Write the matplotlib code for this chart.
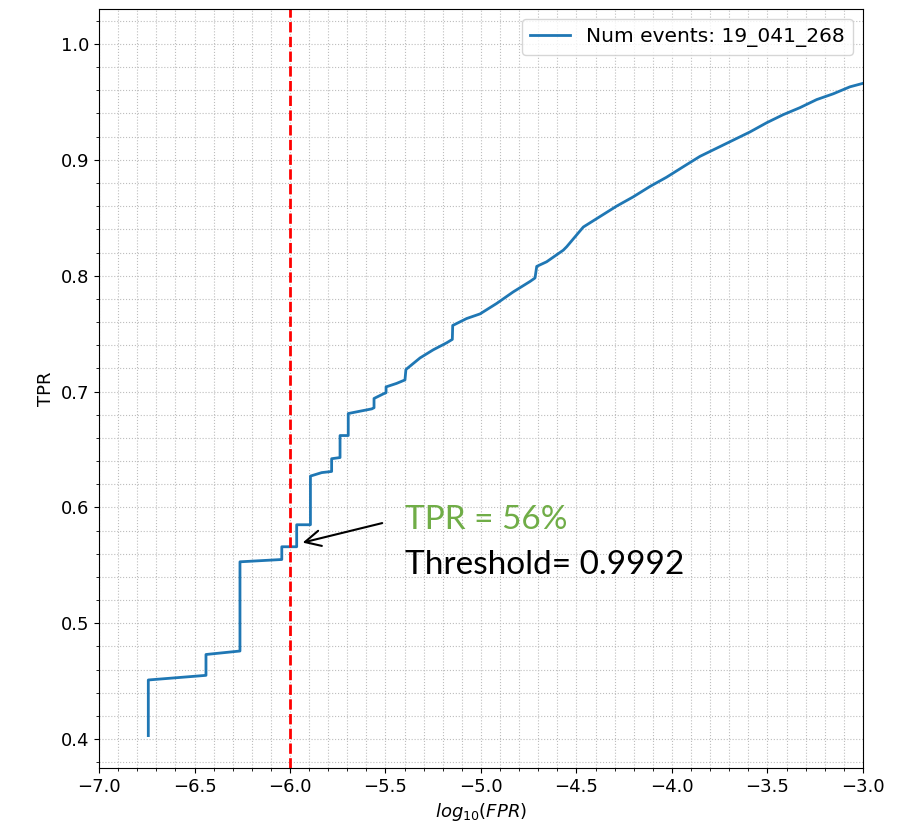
import matplotlib.pyplot as plt
from matplotlib.ticker import MultipleLocator

# ROC curve (log10 FPR, TPR)
log_fpr = [-6.742, -6.742, -6.440, -6.440, -6.262, -6.262, -6.043, -6.043,
           -5.965, -5.965, -5.893, -5.893, -5.834, -5.782, -5.782, -5.738,
           -5.738, -5.695, -5.695, -5.634, -5.572, -5.560, -5.560, -5.511,
           -5.497, -5.497, -5.442, -5.398, -5.393, -5.319, -5.250, -5.180,
           -5.150, -5.148, -5.075, -5.005, -4.918, -4.831, -4.743, -4.717,
           -4.708, -4.656, -4.569, -4.551, -4.464, -4.377, -4.290, -4.203,
           -4.115, -4.028, -3.941, -3.853, -3.766, -3.679, -3.592, -3.504,
           -3.417, -3.330, -3.242, -3.155, -3.068, -3.000]
tpr = [0.403, 0.451, 0.455, 0.473, 0.476, 0.553, 0.555, 0.566,
       0.566, 0.585, 0.585, 0.627, 0.630, 0.631, 0.642, 0.643,
       0.662, 0.662, 0.681, 0.683, 0.685, 0.686, 0.694, 0.698,
       0.699, 0.704, 0.707, 0.710, 0.719, 0.729, 0.736, 0.742,
       0.745, 0.757, 0.763, 0.767, 0.776, 0.786, 0.795, 0.798,
       0.808, 0.812, 0.822, 0.825, 0.842, 0.851, 0.860, 0.868,
       0.877, 0.885, 0.894, 0.903, 0.910, 0.917, 0.924, 0.932,
       0.939, 0.945, 0.952, 0.957, 0.963, 0.966]

cut_x = -6.0
cut_tpr = 0.566
label = 'Num events: 19_041_268'

plt.rcParams['font.size'] = 13
fig = plt.figure(figsize=(9.17, 8.38), dpi=100)
ax = fig.add_axes([0.108, 0.0835, 0.833, 0.9055])

ax.plot(log_fpr, tpr, color='#1f77b4', lw=2, label=label)
ax.axvline(cut_x, color='red', ls='--', lw=2)

ax.annotate('', xy=(-5.948, 0.569), xytext=(-5.503, 0.587),
            arrowprops=dict(arrowstyle='->', color='black', lw=1.5,
                            mutation_scale=28))
ax.text(-5.40, 0.589, 'TPR = 56%', color='#70ad47', fontsize=24,
        family='Lato', va='center', ha='left')
ax.text(-5.40, 0.550, 'Threshold= 0.9992', color='black', fontsize=24,
        family='Lato', va='center', ha='left')

ax.set_xlim(-7.0, -3.0)
ax.set_ylim(0.375, 1.03)
ax.xaxis.set_major_locator(MultipleLocator(0.5))
ax.xaxis.set_minor_locator(MultipleLocator(0.1))
ax.yaxis.set_major_locator(MultipleLocator(0.1))
ax.yaxis.set_minor_locator(MultipleLocator(0.02))
ax.grid(True, which='both', ls=':', color='#bdbdbd', lw=0.8)

ax.set_xlabel('$log_{10}(FPR)$')
ax.set_ylabel('TPR')
ax.legend(loc='upper right', fontsize=14.5)

fig.savefig('out.png')
